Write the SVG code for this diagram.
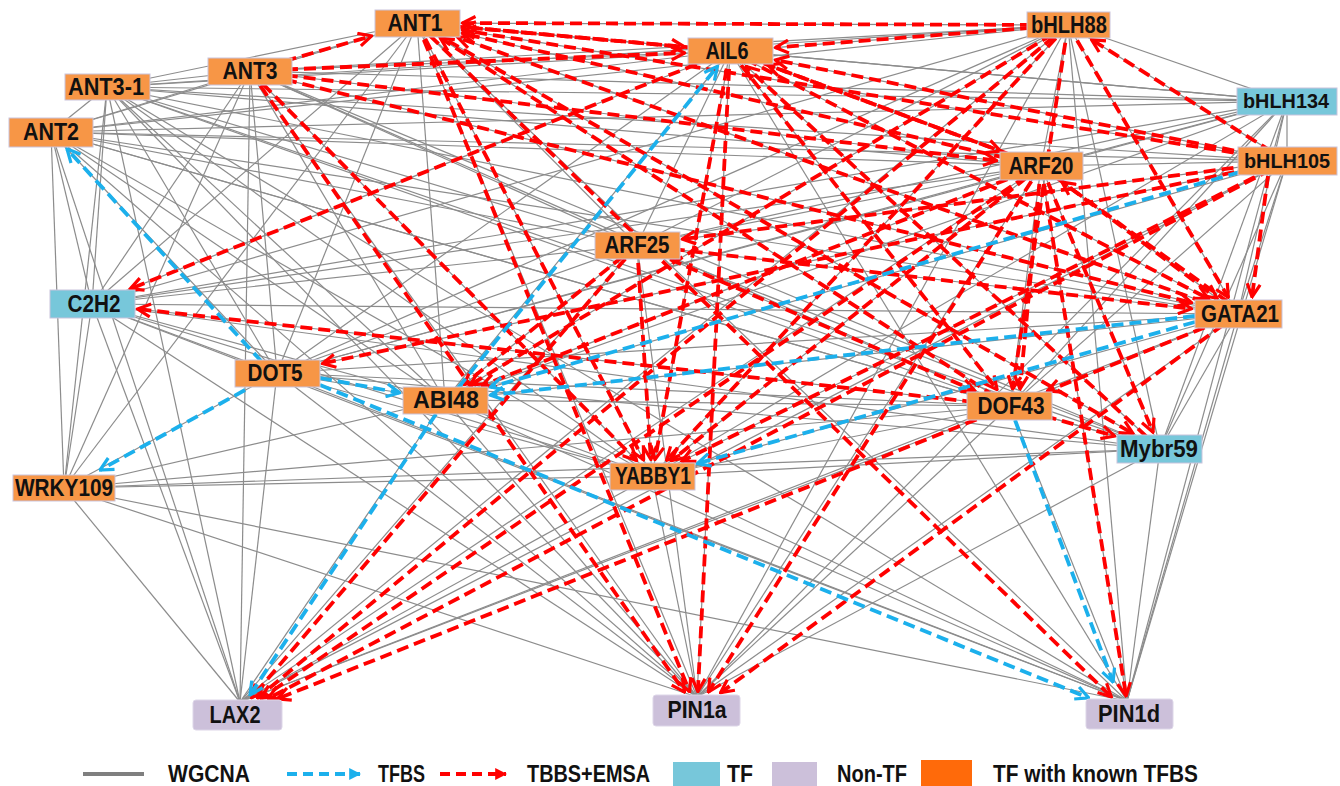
<svg xmlns="http://www.w3.org/2000/svg" width="1340" height="786" viewBox="0 0 1340 786">
<defs>
<style>
.g{stroke:#8c8c8c;stroke-width:1.2;fill:none}
.r{stroke:#ff0000;stroke-width:3.8;stroke-dasharray:12 6;fill:none;marker-end:url(#ar)}
.b{stroke:#1cb0ec;stroke-width:3.8;stroke-dasharray:12 6;fill:none;marker-end:url(#ab)}
.o{fill:#f79646;stroke:#c9c3dc;stroke-width:1}
.c{fill:#77c7da;stroke:#c9c3dc;stroke-width:1}
.n{fill:#ccc0da;stroke:#ddd6e8;stroke-width:1}
.t{font-family:"Liberation Sans",Arial,sans-serif;font-weight:bold;font-size:23px;fill:#111;text-anchor:middle}
.s{font-size:21px}
.lt{font-family:"Liberation Sans",Arial,sans-serif;font-weight:bold;font-size:23px;fill:#111}
</style>
<marker id="ar" viewBox="0 0 16 16" refX="14.5" refY="8" markerWidth="16" markerHeight="16" markerUnits="userSpaceOnUse" orient="auto"><path d="M1.5,1.5 L14.5,8 L1.5,14.5" fill="none" stroke="#ff0000" stroke-width="3.2"/></marker>
<marker id="ab" viewBox="0 0 16 16" refX="14.5" refY="8" markerWidth="16" markerHeight="16" markerUnits="userSpaceOnUse" orient="auto"><path d="M1.5,1.5 L14.5,8 L1.5,14.5" fill="none" stroke="#1cb0ec" stroke-width="3.2"/></marker>
<marker id="lr" viewBox="0 0 10 10" refX="9" refY="5" markerWidth="12" markerHeight="12" markerUnits="userSpaceOnUse" orient="auto"><path d="M0,0 L10,5 L0,10 Z" fill="#ff0000"/></marker>
<marker id="lb" viewBox="0 0 10 10" refX="9" refY="5" markerWidth="12" markerHeight="12" markerUnits="userSpaceOnUse" orient="auto"><path d="M0,0 L10,5 L0,10 Z" fill="#1cb0ec"/></marker>
</defs>
<rect width="1340" height="786" fill="#ffffff"/>
<g id="connectors">
<g id="wgcna">
<line class="g" x1="107" y1="87" x2="250" y2="71"/><line class="g" x1="107" y1="87" x2="417" y2="23"/><line class="g" x1="107" y1="87" x2="730" y2="51"/><line class="g" x1="107" y1="87" x2="1068" y2="25"/><line class="g" x1="107" y1="87" x2="1287" y2="101"/><line class="g" x1="107" y1="87" x2="1041" y2="166"/><line class="g" x1="107" y1="87" x2="1238" y2="314"/><line class="g" x1="107" y1="87" x2="1010" y2="406"/><line class="g" x1="107" y1="87" x2="1160" y2="449"/><line class="g" x1="107" y1="87" x2="652" y2="476"/><line class="g" x1="107" y1="87" x2="697" y2="697"/><line class="g" x1="107" y1="87" x2="1127" y2="701"/><line class="g" x1="107" y1="87" x2="240" y2="702"/><line class="g" x1="107" y1="87" x2="64" y2="488"/><line class="g" x1="107" y1="87" x2="92" y2="304"/><line class="g" x1="107" y1="87" x2="51" y2="132"/><line class="g" x1="107" y1="87" x2="277" y2="373"/><line class="g" x1="107" y1="87" x2="445" y2="400"/><line class="g" x1="107" y1="87" x2="637" y2="245"/><line class="g" x1="107" y1="87" x2="1287" y2="161"/>
<line class="g" x1="51" y1="132" x2="250" y2="71"/><line class="g" x1="51" y1="132" x2="417" y2="23"/><line class="g" x1="51" y1="132" x2="730" y2="51"/><line class="g" x1="51" y1="132" x2="1068" y2="25"/><line class="g" x1="51" y1="132" x2="1287" y2="101"/><line class="g" x1="51" y1="132" x2="1287" y2="161"/><line class="g" x1="51" y1="132" x2="1041" y2="166"/><line class="g" x1="51" y1="132" x2="1238" y2="314"/><line class="g" x1="51" y1="132" x2="1010" y2="406"/><line class="g" x1="51" y1="132" x2="1160" y2="449"/><line class="g" x1="51" y1="132" x2="652" y2="476"/><line class="g" x1="51" y1="132" x2="697" y2="697"/><line class="g" x1="51" y1="132" x2="240" y2="702"/><line class="g" x1="51" y1="132" x2="64" y2="488"/><line class="g" x1="51" y1="132" x2="92" y2="304"/><line class="g" x1="51" y1="132" x2="277" y2="373"/><line class="g" x1="51" y1="132" x2="445" y2="400"/><line class="g" x1="51" y1="132" x2="637" y2="245"/>
<line class="g" x1="250" y1="71" x2="417" y2="23"/><line class="g" x1="250" y1="71" x2="730" y2="51"/><line class="g" x1="250" y1="71" x2="1068" y2="25"/><line class="g" x1="250" y1="71" x2="1287" y2="101"/><line class="g" x1="250" y1="71" x2="1041" y2="166"/><line class="g" x1="250" y1="71" x2="1238" y2="314"/><line class="g" x1="250" y1="71" x2="652" y2="476"/><line class="g" x1="250" y1="71" x2="697" y2="697"/><line class="g" x1="250" y1="71" x2="1010" y2="406"/><line class="g" x1="250" y1="71" x2="445" y2="400"/><line class="g" x1="250" y1="71" x2="277" y2="373"/><line class="g" x1="250" y1="71" x2="92" y2="304"/><line class="g" x1="250" y1="71" x2="64" y2="488"/><line class="g" x1="250" y1="71" x2="240" y2="702"/><line class="g" x1="250" y1="71" x2="637" y2="245"/><line class="g" x1="250" y1="71" x2="1160" y2="449"/>
<line class="g" x1="417" y1="23" x2="730" y2="51"/><line class="g" x1="417" y1="23" x2="1068" y2="25"/><line class="g" x1="417" y1="23" x2="1287" y2="101"/><line class="g" x1="417" y1="23" x2="1041" y2="166"/><line class="g" x1="417" y1="23" x2="1238" y2="314"/><line class="g" x1="417" y1="23" x2="652" y2="476"/><line class="g" x1="417" y1="23" x2="697" y2="697"/><line class="g" x1="417" y1="23" x2="1127" y2="701"/><line class="g" x1="417" y1="23" x2="1010" y2="406"/><line class="g" x1="417" y1="23" x2="445" y2="400"/><line class="g" x1="417" y1="23" x2="92" y2="304"/><line class="g" x1="417" y1="23" x2="277" y2="373"/><line class="g" x1="417" y1="23" x2="64" y2="488"/><line class="g" x1="417" y1="23" x2="637" y2="245"/><line class="g" x1="417" y1="23" x2="1287" y2="161"/><line class="g" x1="417" y1="23" x2="1160" y2="449"/>
<line class="g" x1="730" y1="51" x2="1068" y2="25"/><line class="g" x1="730" y1="51" x2="1287" y2="101"/><line class="g" x1="730" y1="51" x2="1287" y2="161"/><line class="g" x1="730" y1="51" x2="1041" y2="166"/><line class="g" x1="730" y1="51" x2="1238" y2="314"/><line class="g" x1="730" y1="51" x2="652" y2="476"/><line class="g" x1="730" y1="51" x2="697" y2="697"/><line class="g" x1="730" y1="51" x2="1010" y2="406"/><line class="g" x1="730" y1="51" x2="1160" y2="449"/><line class="g" x1="730" y1="51" x2="92" y2="304"/><line class="g" x1="730" y1="51" x2="277" y2="373"/><line class="g" x1="730" y1="51" x2="445" y2="400"/><line class="g" x1="730" y1="51" x2="637" y2="245"/><line class="g" x1="730" y1="51" x2="1127" y2="701"/>
<line class="g" x1="1068" y1="25" x2="1287" y2="101"/><line class="g" x1="1068" y1="25" x2="1287" y2="161"/><line class="g" x1="1068" y1="25" x2="1041" y2="166"/><line class="g" x1="1068" y1="25" x2="1238" y2="314"/><line class="g" x1="1068" y1="25" x2="1010" y2="406"/><line class="g" x1="1068" y1="25" x2="1160" y2="449"/><line class="g" x1="1068" y1="25" x2="652" y2="476"/><line class="g" x1="1068" y1="25" x2="697" y2="697"/><line class="g" x1="1068" y1="25" x2="1127" y2="701"/><line class="g" x1="1068" y1="25" x2="637" y2="245"/><line class="g" x1="1068" y1="25" x2="445" y2="400"/><line class="g" x1="1068" y1="25" x2="277" y2="373"/><line class="g" x1="1068" y1="25" x2="92" y2="304"/><line class="g" x1="1068" y1="25" x2="240" y2="702"/>
<line class="g" x1="1287" y1="101" x2="1287" y2="161"/><line class="g" x1="1287" y1="101" x2="1041" y2="166"/><line class="g" x1="1287" y1="101" x2="1238" y2="314"/><line class="g" x1="1287" y1="101" x2="1010" y2="406"/><line class="g" x1="1287" y1="101" x2="1160" y2="449"/><line class="g" x1="1287" y1="101" x2="652" y2="476"/><line class="g" x1="1287" y1="101" x2="445" y2="400"/><line class="g" x1="1287" y1="101" x2="277" y2="373"/><line class="g" x1="1287" y1="101" x2="637" y2="245"/><line class="g" x1="1287" y1="101" x2="92" y2="304"/><line class="g" x1="1287" y1="101" x2="1127" y2="701"/><line class="g" x1="1287" y1="101" x2="697" y2="697"/>
<line class="g" x1="1287" y1="161" x2="1041" y2="166"/><line class="g" x1="1287" y1="161" x2="1238" y2="314"/><line class="g" x1="1287" y1="161" x2="1010" y2="406"/><line class="g" x1="1287" y1="161" x2="1160" y2="449"/><line class="g" x1="1287" y1="161" x2="652" y2="476"/><line class="g" x1="1287" y1="161" x2="445" y2="400"/><line class="g" x1="1287" y1="161" x2="277" y2="373"/><line class="g" x1="1287" y1="161" x2="637" y2="245"/><line class="g" x1="1287" y1="161" x2="1127" y2="701"/><line class="g" x1="1287" y1="161" x2="240" y2="702"/>
<line class="g" x1="1041" y1="166" x2="1238" y2="314"/><line class="g" x1="1041" y1="166" x2="1010" y2="406"/><line class="g" x1="1041" y1="166" x2="1160" y2="449"/><line class="g" x1="1041" y1="166" x2="652" y2="476"/><line class="g" x1="1041" y1="166" x2="697" y2="697"/><line class="g" x1="1041" y1="166" x2="1127" y2="701"/><line class="g" x1="1041" y1="166" x2="637" y2="245"/><line class="g" x1="1041" y1="166" x2="445" y2="400"/><line class="g" x1="1041" y1="166" x2="277" y2="373"/><line class="g" x1="1041" y1="166" x2="92" y2="304"/><line class="g" x1="1041" y1="166" x2="240" y2="702"/>
<line class="g" x1="637" y1="245" x2="1238" y2="314"/><line class="g" x1="637" y1="245" x2="1010" y2="406"/><line class="g" x1="637" y1="245" x2="652" y2="476"/><line class="g" x1="637" y1="245" x2="445" y2="400"/><line class="g" x1="637" y1="245" x2="240" y2="702"/><line class="g" x1="637" y1="245" x2="697" y2="697"/><line class="g" x1="637" y1="245" x2="1160" y2="449"/><line class="g" x1="637" y1="245" x2="277" y2="373"/><line class="g" x1="637" y1="245" x2="92" y2="304"/>
<line class="g" x1="1238" y1="314" x2="1010" y2="406"/><line class="g" x1="1238" y1="314" x2="1160" y2="449"/><line class="g" x1="1238" y1="314" x2="652" y2="476"/><line class="g" x1="1238" y1="314" x2="445" y2="400"/><line class="g" x1="1238" y1="314" x2="697" y2="697"/><line class="g" x1="1238" y1="314" x2="1127" y2="701"/><line class="g" x1="1238" y1="314" x2="240" y2="702"/><line class="g" x1="1238" y1="314" x2="92" y2="304"/><line class="g" x1="1238" y1="314" x2="277" y2="373"/>
<line class="g" x1="92" y1="304" x2="277" y2="373"/><line class="g" x1="92" y1="304" x2="445" y2="400"/><line class="g" x1="92" y1="304" x2="64" y2="488"/><line class="g" x1="92" y1="304" x2="240" y2="702"/><line class="g" x1="92" y1="304" x2="652" y2="476"/><line class="g" x1="92" y1="304" x2="697" y2="697"/><line class="g" x1="92" y1="304" x2="1127" y2="701"/><line class="g" x1="92" y1="304" x2="1010" y2="406"/><line class="g" x1="92" y1="304" x2="1160" y2="449"/>
<line class="g" x1="277" y1="373" x2="445" y2="400"/><line class="g" x1="277" y1="373" x2="64" y2="488"/><line class="g" x1="277" y1="373" x2="240" y2="702"/><line class="g" x1="277" y1="373" x2="1127" y2="701"/><line class="g" x1="277" y1="373" x2="652" y2="476"/><line class="g" x1="277" y1="373" x2="697" y2="697"/><line class="g" x1="277" y1="373" x2="1010" y2="406"/><line class="g" x1="277" y1="373" x2="1160" y2="449"/>
<line class="g" x1="445" y1="400" x2="240" y2="702"/><line class="g" x1="445" y1="400" x2="652" y2="476"/><line class="g" x1="445" y1="400" x2="697" y2="697"/><line class="g" x1="445" y1="400" x2="1127" y2="701"/><line class="g" x1="445" y1="400" x2="64" y2="488"/><line class="g" x1="445" y1="400" x2="1010" y2="406"/>
<line class="g" x1="64" y1="488" x2="652" y2="476"/><line class="g" x1="64" y1="488" x2="697" y2="697"/><line class="g" x1="64" y1="488" x2="1127" y2="701"/><line class="g" x1="64" y1="488" x2="1160" y2="449"/><line class="g" x1="64" y1="488" x2="240" y2="702"/><line class="g" x1="64" y1="488" x2="1010" y2="406"/>
<line class="g" x1="1010" y1="406" x2="1160" y2="449"/><line class="g" x1="1010" y1="406" x2="1127" y2="701"/><line class="g" x1="1010" y1="406" x2="697" y2="697"/><line class="g" x1="1010" y1="406" x2="240" y2="702"/><line class="g" x1="1010" y1="406" x2="652" y2="476"/>
<line class="g" x1="1160" y1="449" x2="1127" y2="701"/><line class="g" x1="1160" y1="449" x2="697" y2="697"/><line class="g" x1="1160" y1="449" x2="652" y2="476"/>
<line class="g" x1="652" y1="476" x2="697" y2="697"/><line class="g" x1="652" y1="476" x2="1127" y2="701"/><line class="g" x1="652" y1="476" x2="240" y2="702"/>
</g>
<g id="tbbs-emsa">
<line class="r" x1="250" y1="71" x2="371.6" y2="36"/>
<line class="r" x1="1068" y1="25" x2="462.5" y2="23"/>
<line class="r" x1="730" y1="51" x2="462.5" y2="27"/>
<line class="r" x1="1041" y1="166" x2="462.4" y2="33.4"/>
<line class="r" x1="1287" y1="161" x2="462.5" y2="30.2"/>
<line class="r" x1="1010" y1="406" x2="440.4" y2="38.1"/>
<line class="r" x1="1238" y1="314" x2="457.9" y2="37.5"/>
<line class="r" x1="1068" y1="25" x2="775.5" y2="47.5"/>
<line class="r" x1="250" y1="71" x2="684.5" y2="52.9"/>
<line class="r" x1="417" y1="23" x2="684.5" y2="46.9"/>
<line class="r" x1="1287" y1="161" x2="775.4" y2="60"/>
<line class="r" x1="1041" y1="166" x2="767.9" y2="65"/>
<line class="r" x1="1160" y1="449" x2="746" y2="66.5"/>
<line class="r" x1="250" y1="71" x2="996.5" y2="160.6"/>
<line class="r" x1="730" y1="51" x2="1000.4" y2="151"/>
<line class="r" x1="1228" y1="302" x2="1062" y2="182"/>
<line class="r" x1="250" y1="71" x2="1191.6" y2="302.6"/>
<line class="r" x1="730" y1="51" x2="1208.3" y2="298.6"/>
<line class="r" x1="1068" y1="25" x2="1228.3" y2="297.4"/>
<line class="r" x1="1268" y1="176" x2="1252" y2="297"/>
<line class="r" x1="1041" y1="166" x2="1217" y2="298.2"/>
<line class="r" x1="637" y1="245" x2="1191.5" y2="308.7"/>
<line class="r" x1="250" y1="71" x2="636.5" y2="460.4"/>
<line class="r" x1="417" y1="23" x2="643.6" y2="459.8"/>
<line class="r" x1="730" y1="51" x2="655" y2="459.5"/>
<line class="r" x1="637" y1="245" x2="650.9" y2="459.5"/>
<line class="r" x1="1068" y1="25" x2="666.5" y2="460.3"/>
<line class="r" x1="1041" y1="166" x2="671.3" y2="460.6"/>
<line class="r" x1="1287" y1="161" x2="681.9" y2="461.2"/>
<line class="r" x1="250" y1="71" x2="684.5" y2="692"/>
<line class="r" x1="417" y1="23" x2="689.6" y2="691.7"/>
<line class="r" x1="730" y1="51" x2="697.9" y2="691.5"/>
<line class="r" x1="1041" y1="166" x2="708.4" y2="692"/>
<line class="r" x1="1238" y1="314" x2="720.6" y2="692.7"/>
<line class="r" x1="417" y1="23" x2="1111.4" y2="696.9"/>
<line class="r" x1="1041" y1="166" x2="1126.1" y2="696"/>
<line class="r" x1="730" y1="51" x2="130.1" y2="288.9"/>
<line class="r" x1="1010" y1="406" x2="137.5" y2="309"/>
<line class="r" x1="730" y1="51" x2="997.1" y2="389.6"/>
<line class="r" x1="1068" y1="25" x2="1012.6" y2="389"/>
<line class="r" x1="1041" y1="166" x2="1020" y2="389"/>
<line class="r" x1="637" y1="245" x2="974.8" y2="390.8"/>
<line class="r" x1="1238" y1="314" x2="1047.5" y2="390.9"/>
<line class="r" x1="417" y1="23" x2="1133" y2="433.5"/>
<line class="r" x1="1041" y1="166" x2="1153" y2="432.2"/>
<line class="r" x1="1010" y1="406" x2="1114.6" y2="436"/>
<line class="r" x1="1068" y1="25" x2="470" y2="385"/>
<line class="r" x1="1041" y1="166" x2="482.2" y2="385.4"/>
<line class="r" x1="637" y1="245" x2="464" y2="384.6"/>
<line class="r" x1="1068" y1="25" x2="257.4" y2="698.1"/>
<line class="r" x1="1287" y1="161" x2="268.1" y2="698.6"/>
<line class="r" x1="1041" y1="166" x2="261.5" y2="698.3"/>
<line class="r" x1="637" y1="245" x2="251.7" y2="697.7"/>
<line class="r" x1="1010" y1="406" x2="277.3" y2="698.9"/>
<line class="r" x1="1287" y1="161" x2="322.4" y2="363.5"/>
<line class="r" x1="1287" y1="161" x2="682.5" y2="239.1"/>
<line class="r" x1="1287" y1="161" x2="1091.5" y2="39.6"/>
</g>
<g id="tfbs">
<line class="b" x1="262" y1="362" x2="67" y2="149"/>
<line class="b" x1="245" y1="390" x2="100" y2="470"/>
<line class="b" x1="320" y1="378" x2="399.5" y2="392.7"/>
<line class="b" x1="320" y1="385" x2="1088.7" y2="697.9"/>
<line class="b" x1="458" y1="388" x2="717.5" y2="66.4"/>
<line class="b" x1="436" y1="414" x2="250" y2="695"/>
<line class="b" x1="1240" y1="172" x2="490.4" y2="387.1"/>
<line class="b" x1="1195" y1="316" x2="490.5" y2="395.1"/>
<line class="b" x1="1195" y1="322" x2="697.4" y2="463.5"/>
<line class="b" x1="1015" y1="420" x2="1113" y2="682"/>
</g>
</g>
<g id="nodes">
<g id="ANT1"><rect class="o" x="375" y="10" width="85" height="27"/><text class="t" x="415" y="31" textLength="55" lengthAdjust="spacingAndGlyphs">ANT1</text></g>
<g id="ANT3"><rect class="o" x="208" y="58" width="84" height="27"/><text class="t" x="250" y="79" textLength="55" lengthAdjust="spacingAndGlyphs">ANT3</text></g>
<g id="ANT3-1"><rect class="o" x="65" y="74" width="85" height="26"/><text class="t" x="106" y="95" textLength="76" lengthAdjust="spacingAndGlyphs">ANT3-1</text></g>
<g id="ANT2"><rect class="o" x="9" y="118" width="84" height="29"/><text class="t" x="51" y="140" textLength="56" lengthAdjust="spacingAndGlyphs">ANT2</text></g>
<g id="AIL6"><rect class="o" x="688" y="38" width="85" height="26"/><text class="t" x="727" y="59" textLength="43" lengthAdjust="spacingAndGlyphs">AIL6</text></g>
<g id="bHLH88"><rect class="o" x="1027" y="12" width="83" height="26"/><text class="t" x="1069" y="33" textLength="76" lengthAdjust="spacingAndGlyphs">bHLH88</text></g>
<g id="bHLH134"><rect class="c" x="1237" y="88" width="100" height="27"/><text class="t s" x="1286" y="108" textLength="86" lengthAdjust="spacingAndGlyphs">bHLH134</text></g>
<g id="bHLH105"><rect class="o" x="1238" y="147" width="99" height="28"/><text class="t s" x="1287" y="168" textLength="86" lengthAdjust="spacingAndGlyphs">bHLH105</text></g>
<g id="ARF20"><rect class="o" x="1000" y="152" width="83" height="28"/><text class="t" x="1041" y="174" textLength="65" lengthAdjust="spacingAndGlyphs">ARF20</text></g>
<g id="ARF25"><rect class="o" x="595" y="232" width="85" height="27"/><text class="t" x="637" y="253" textLength="65" lengthAdjust="spacingAndGlyphs">ARF25</text></g>
<g id="C2H2"><rect class="c" x="50" y="290" width="85" height="28"/><text class="t" x="94" y="312" textLength="53" lengthAdjust="spacingAndGlyphs">C2H2</text></g>
<g id="GATA21"><rect class="o" x="1195" y="300" width="87" height="28"/><text class="t" x="1240" y="322" textLength="78" lengthAdjust="spacingAndGlyphs">GATA21</text></g>
<g id="DOT5"><rect class="o" x="235" y="360" width="85" height="27"/><text class="t" x="275" y="381" textLength="55" lengthAdjust="spacingAndGlyphs">DOT5</text></g>
<g id="ABI48"><rect class="o" x="403" y="387" width="85" height="27"/><text class="t" x="446" y="408" textLength="66" lengthAdjust="spacingAndGlyphs">ABI48</text></g>
<g id="DOF43"><rect class="o" x="967" y="392" width="85" height="28"/><text class="t" x="1011" y="414" textLength="67" lengthAdjust="spacingAndGlyphs">DOF43</text></g>
<g id="Mybr59"><rect class="c" x="1117" y="435" width="85" height="28"/><text class="t" x="1159" y="457" textLength="78" lengthAdjust="spacingAndGlyphs">Mybr59</text></g>
<g id="YABBY1"><rect class="o" x="610" y="463" width="85" height="27"/><text class="t" x="653" y="484" textLength="76" lengthAdjust="spacingAndGlyphs">YABBY1</text></g>
<g id="WRKY109"><rect class="o" x="13" y="475" width="102" height="26"/><text class="t" x="64" y="496" textLength="98" lengthAdjust="spacingAndGlyphs">WRKY109</text></g>
<g id="LAX2"><rect class="n" x="193" y="700" width="89" height="30" rx="3"/><text class="t" x="235" y="723" textLength="51" lengthAdjust="spacingAndGlyphs">LAX2</text></g>
<g id="PIN1a"><rect class="n" x="653" y="695" width="87" height="31" rx="3"/><text class="t" x="697" y="718" textLength="59" lengthAdjust="spacingAndGlyphs">PIN1a</text></g>
<g id="PIN1d"><rect class="n" x="1086" y="699" width="87" height="30" rx="3"/><text class="t" x="1129" y="722" textLength="62" lengthAdjust="spacingAndGlyphs">PIN1d</text></g>
</g>
<g id="legend">
<line x1="83" y1="774" x2="144" y2="774" stroke="#7f7f7f" stroke-width="4"/>
<text class="lt" x="168" y="782" textLength="82" lengthAdjust="spacingAndGlyphs">WGCNA</text>
<line x1="287" y1="774" x2="360" y2="774" stroke="#1cb0ec" stroke-width="4" stroke-dasharray="10 6" marker-end="url(#lb)"/>
<text class="lt" x="378" y="782" textLength="47" lengthAdjust="spacingAndGlyphs">TFBS</text>
<line x1="440" y1="774" x2="506" y2="774" stroke="#ff0000" stroke-width="4" stroke-dasharray="10 6" marker-end="url(#lr)"/>
<text class="lt" x="527" y="782" textLength="123" lengthAdjust="spacingAndGlyphs">TBBS+EMSA</text>
<rect x="673" y="762" width="47" height="24" fill="#77c7da"/>
<text class="lt" x="727" y="782" textLength="26" lengthAdjust="spacingAndGlyphs">TF</text>
<rect x="772" y="762" width="45" height="24" fill="#ccc0da"/>
<text class="lt" x="837" y="782" textLength="70" lengthAdjust="spacingAndGlyphs">Non-TF</text>
<rect x="921" y="760" width="51" height="26" fill="#ff6a0a"/>
<text class="lt" x="993" y="782" textLength="205" lengthAdjust="spacingAndGlyphs">TF with known TFBS</text>
</g>
</svg>
